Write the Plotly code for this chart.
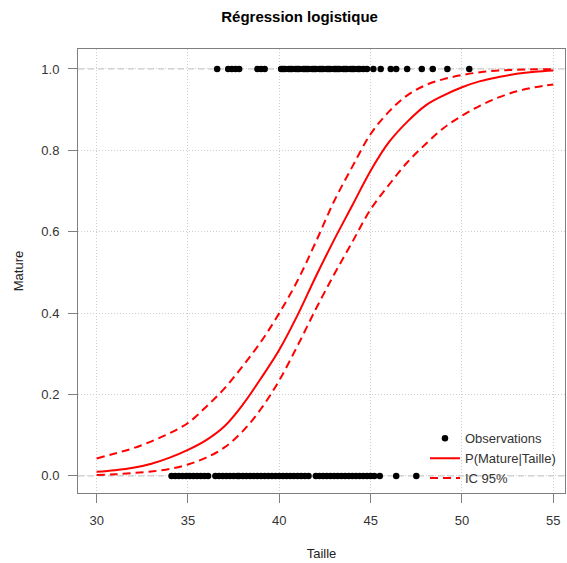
import plotly.graph_objects as go

# Observations (Taille) for immature (0) and mature (1)
obs_x0 = [34.1, 34.3, 34.5, 34.7, 34.9, 35.1, 35.3, 35.5, 35.7, 35.9, 36.1,
          36.5, 36.7, 36.9, 37.1, 37.3, 37.5, 37.7, 37.8, 38.0, 38.2, 38.4,
          38.6, 38.8, 39.0, 39.2, 39.4, 39.6, 39.8, 40.0, 40.2, 40.4, 40.6,
          40.8, 41.0, 41.2, 41.4, 41.6, 42.0, 42.2, 42.4, 42.6, 42.8, 43.0,
          43.2, 43.4, 43.6, 43.8, 44.0, 44.2, 44.4, 44.6, 44.8, 45.0, 45.2,
          45.5, 46.4, 47.5]
obs_x1 = [36.6, 37.2, 37.4, 37.6, 37.8, 38.8, 39.0, 39.2,
          40.1, 40.2, 40.3, 40.5, 40.6, 40.7, 40.9, 41.0, 41.1, 41.3, 41.4,
          41.5, 41.6, 41.8, 41.9, 42.0, 42.2, 42.3, 42.4, 42.6, 42.7, 42.8,
          43.0, 43.1, 43.2, 43.3, 43.5, 43.6, 43.7, 43.9, 44.0, 44.1, 44.3,
          44.4, 44.6, 44.8, 45.15, 45.55, 46.1, 46.4, 47.0, 47.8, 48.4, 49.2,
          50.4]

# Fitted curve and 95% CI, read at integer sizes
taille = [30, 31, 32, 33, 34, 35, 36, 37, 38, 39, 40, 41, 42, 43, 44, 45,
          46, 47, 48, 49, 50, 51, 52, 53, 54, 55]
p_fit = [0.010, 0.014, 0.020, 0.030, 0.045, 0.064, 0.088, 0.122, 0.175,
         0.240, 0.310, 0.395, 0.490, 0.580, 0.665, 0.750, 0.820, 0.870,
         0.910, 0.935, 0.955, 0.970, 0.980, 0.988, 0.993, 0.996]
ic_hi = [0.043, 0.055, 0.068, 0.085, 0.105, 0.130, 0.170, 0.215, 0.270,
         0.330, 0.400, 0.480, 0.575, 0.675, 0.760, 0.840, 0.895, 0.935,
         0.960, 0.975, 0.985, 0.992, 0.996, 0.998, 0.999, 0.9995]
ic_lo = [0.0025, 0.004, 0.007, 0.011, 0.017, 0.028, 0.045, 0.070, 0.110,
         0.165, 0.235, 0.320, 0.410, 0.495, 0.575, 0.655, 0.715, 0.770,
         0.815, 0.855, 0.885, 0.910, 0.930, 0.945, 0.955, 0.962]

xticks = [30, 35, 40, 45, 50, 55]
yticks = [0.0, 0.2, 0.4, 0.6, 0.8, 1.0]

FONT = "Liberation Sans, Arial, sans-serif"
RED = "#ff0000"

fig = go.Figure()

fig.add_trace(go.Scatter(
    x=obs_x0 + obs_x1, y=[0] * len(obs_x0) + [1] * len(obs_x1),
    mode="markers", name="Observations",
    marker=dict(color="black", size=6.5, line=dict(width=0)),
    cliponaxis=False))
fig.add_trace(go.Scatter(
    x=taille, y=p_fit, mode="lines", name="P(Mature|Taille)",
    line=dict(color=RED, width=2, shape="spline")))
fig.add_trace(go.Scatter(
    x=taille, y=ic_hi, mode="lines", name="IC 95%",
    line=dict(color=RED, width=2, dash="8px,5px", shape="spline")))
fig.add_trace(go.Scatter(
    x=taille, y=ic_lo, mode="lines", name="IC 95%", showlegend=False,
    line=dict(color=RED, width=2, dash="8px,5px", shape="spline")))

# dashed reference lines at 0 and 1
for yv in [0, 1]:
    fig.add_shape(type="line", xref="paper", x0=0, x1=1, yref="y", y0=yv, y1=yv,
                  line=dict(color="#bdbdbd", width=1, dash="6px,4px"), layer="below")

axis_common = dict(
    showline=True, linecolor="#7f7f7f", linewidth=1, mirror=True,
    ticks="outside", ticklen=9, tickcolor="#7f7f7f", tickwidth=1,
    tickfont=dict(family=FONT, size=13, color="#333333"),
    showgrid=True, gridcolor="#cfcfcf", gridwidth=1, griddash="1px,2px",
    zeroline=False,
)

fig.update_xaxes(
    range=[28.98, 55.64], tickvals=xticks, ticktext=[str(v) for v in xticks],
    ticklabelstandoff=6,
    title=dict(text="Taille", font=dict(family=FONT, size=13, color="#222222"),
               standoff=22),
    **axis_common)
fig.update_yaxes(
    range=[-0.042, 1.049], tickvals=yticks, ticktext=[f"{v:.1f}" for v in yticks],
    ticklabelstandoff=6,
    title=dict(text="Mature", font=dict(family=FONT, size=13, color="#222222"),
               standoff=14),
    **axis_common)

fig.update_layout(
    width=567, height=563,
    margin=dict(l=78, r=2, t=49, b=70, autoexpand=False),
    paper_bgcolor="white", plot_bgcolor="white",
    title=dict(text="<b>Régression logistique</b>", xref="paper", x=0.455,
               xanchor="center", y=1 - 17 / 563, yanchor="middle",
               font=dict(family=FONT, size=15, color="black")),
    legend=dict(x=0.7125, y=0.157, xanchor="left", yanchor="top",
                bgcolor="rgba(0,0,0,0)", borderwidth=0,
                font=dict(family=FONT, size=13, color="#333333"),
                tracegroupgap=0),
    showlegend=True,
)

fig.write_html("out.html", config={"displayModeBar": False},
               post_script="document.body.style.margin='0px';document.body.style.padding='0px';")
